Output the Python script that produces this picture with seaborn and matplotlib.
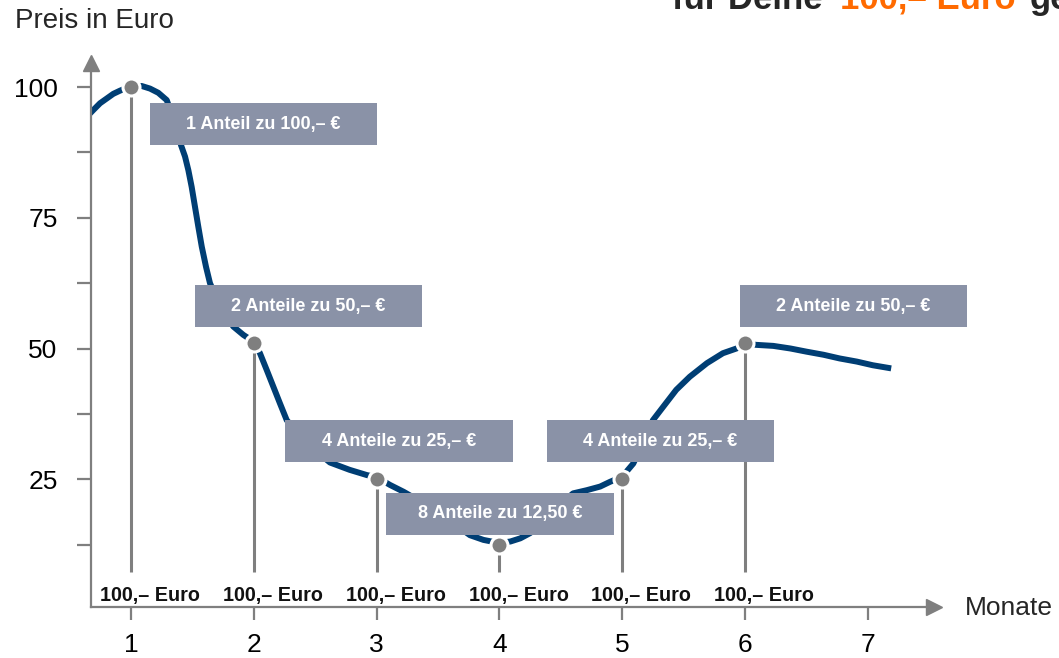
import matplotlib
matplotlib.use("Agg")
import matplotlib.pyplot as plt
from matplotlib.patches import Rectangle
import pandas as pd
import seaborn as sns


# price curve
curve_x = [0.639, 0.693, 0.748, 0.802, 0.856, 0.910, 0.992, 1.087, 1.155, 1.222,
           1.291, 1.358, 1.407, 1.440, 1.467, 1.494, 1.521, 1.548, 1.576, 1.611,
           1.643, 1.725, 1.833, 1.915, 2.0, 2.05, 2.105, 2.159, 2.213, 2.268,
           2.43, 2.62, 2.78, 2.92, 3.0, 3.11, 3.22, 3.45, 3.6, 3.76, 3.87, 4.0,
           4.09, 4.17, 4.25, 4.44, 4.60, 4.71, 4.82, 4.90, 5.0, 5.09, 5.17, 5.25,
           5.335, 5.44, 5.55, 5.69, 5.82, 5.93, 6.0, 6.09, 6.23, 6.37, 6.50, 6.64,
           6.77, 6.91, 7.04, 7.19]
curve_y = [94.3, 95.6, 96.9, 97.8, 98.7, 99.3, 100.1, 100.2, 99.7, 98.9,
           97.5, 93.1, 88.9, 86.7, 84.1, 80.9, 77.1, 73.3, 69.5, 65.6,
           62.5, 58.0, 54.2, 52.6, 51.3, 49.1, 45.9, 42.7, 39.5, 36.3,
           31.9, 28.2, 26.8, 25.8, 25.4, 23.9, 22.6, 19.5, 17.0, 14.3, 13.4, 12.8,
           13.1, 13.7, 14.7, 19.1, 22.3, 22.9, 23.6, 24.5, 25.5, 28.0, 32.0, 36.3,
           38.9, 42.1, 44.6, 47.2, 49.1, 50.0, 51.0, 50.7, 50.5, 50.0, 49.4, 48.8,
           48.1, 47.5, 46.8, 46.2]

# monthly purchases
months = [1, 2, 3, 4, 5, 6]
prices = [100, 51, 25, 12.5, 25, 51]
box_texts = ["1 Anteil zu 100,– €", "2 Anteile zu 50,– €", "4 Anteile zu 25,– €",
             "8 Anteile zu 12,50 €", "4 Anteile zu 25,– €", "2 Anteile zu 50,– €"]
invest_label = "100,– Euro"

x_ticks = [1, 2, 3, 4, 5, 6, 7]
y_ticks = [25, 50, 75, 100]
y_minor = [12.5, 37.5, 62.5, 87.5]

# layout (data coords): centers of the grey boxes
box_centers = [(2.079, 92.9), (2.445, 58.1), (3.182, 32.3),
               (4.005, 18.4), (5.312, 32.3), (6.884, 58.1)]
BOX_W, BOX_H = 1.85, 8.0

NAVY = "#003E74"
GREY = "#7F7F7F"
BOX = "#8A92A7"
ORANGE = "#FF6A00"


def main():
    sns.set_style("white")
    plt.rcParams["font.family"] = ["Liberation Sans", "DejaVu Sans"]

    fig = plt.figure(figsize=(10.59, 6.58), dpi=100)
    ax = fig.add_axes([0.0859, 0.0775, 0.7961, 0.8268])

    curve = pd.DataFrame({"x": curve_x, "y": curve_y})
    sns.lineplot(data=curve, x="x", y="y", ax=ax, color=NAVY, linewidth=4.3,
                 sort=False, estimator=None, zorder=2, solid_capstyle="butt")

    ax.vlines(months, 7.3, prices, color=GREY, linewidth=2.2, zorder=1)

    for (cx, cy), txt in zip(box_centers, box_texts):
        ax.add_patch(Rectangle((cx - BOX_W / 2, cy - BOX_H / 2), BOX_W, BOX_H,
                               facecolor=BOX, edgecolor="none", zorder=3,
                               clip_on=False))
        ax.text(cx, cy, txt, ha="center", va="center", color="white",
                fontsize=13, fontweight="bold", zorder=4, clip_on=False)

    pts = pd.DataFrame({"m": months, "p": prices})
    sns.scatterplot(data=pts, x="m", y="p", ax=ax, color=GREY, s=150,
                    edgecolor="white", linewidth=2.2, zorder=5)

    for m in months:
        ax.text(m + 0.155, 2.7, invest_label, ha="center", va="center",
                fontsize=14.2, fontweight="bold", color="#111111")

    ax.set_xlim(0.674, 7.539)
    ax.set_ylim(0.57, 104.6)
    ax.set_xticks(x_ticks)
    ax.set_xticklabels([str(t) for t in x_ticks])
    ax.set_yticks(y_ticks)
    ax.set_yticklabels([str(t) for t in y_ticks])
    ax.set_yticks(y_minor, minor=True)
    ax.set_xlabel("")
    ax.set_ylabel("")
    ax.tick_params(axis="x", direction="out", length=9, width=1.6, color=GREY,
                   labelsize=19, labelcolor="black", pad=10, bottom=True)
    ax.tick_params(axis="y", which="both", direction="out", length=10, width=1.6,
                   color=GREY, labelsize=19, labelcolor="black", pad=14, left=True)

    for side in ["top", "right"]:
        ax.spines[side].set_visible(False)
    for side in ["left", "bottom"]:
        ax.spines[side].set_color(GREY)
        ax.spines[side].set_linewidth(1.6)
    ax.plot(1, 0, ">", color=GREY, markersize=11, transform=ax.transAxes,
            clip_on=False)
    ax.plot(0, 1, "^", color=GREY, markersize=11, transform=ax.transAxes,
            clip_on=False)

    W, H = 1059, 658
    fig.text(15 / W, (H - 28) / H, "Preis in Euro", fontsize=20, va="baseline")
    fig.text(965 / W, (H - 608) / H, "Monate", fontsize=19, va="center")

    fig.text(672 / W, (H - 9) / H, "für Deine", fontsize=25, fontweight="bold",
             va="baseline")
    fig.text(840 / W, (H - 9) / H, invest_label, fontsize=25, fontweight="bold",
             color=ORANGE, va="baseline")
    fig.text(1030 / W, (H - 9) / H, "ge", fontsize=25, fontweight="bold",
             va="baseline")

    fig.savefig("out.png", dpi=100)


if __name__ == "__main__":
    main()
